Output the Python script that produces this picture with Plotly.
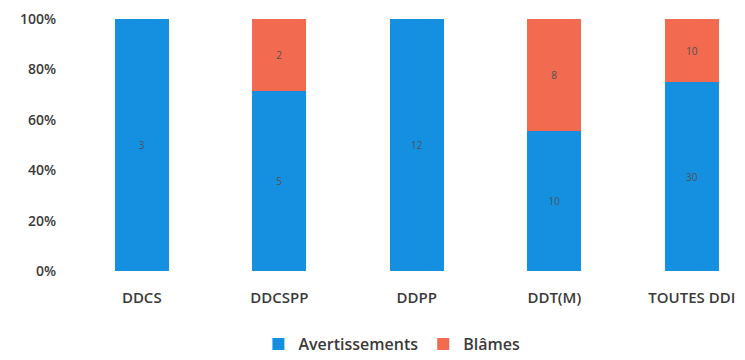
import plotly.graph_objects as go

categories = ["DDCS", "DDCSPP", "DDPP", "DDT(M)", "TOUTES DDI"]
avertissements = [3, 5, 12, 10, 30]
blames = [0, 2, 0, 8, 10]
y_ticks = [0, 20, 40, 60, 80, 100]
y_tick_labels = ["0%", "20%", "40%", "60%", "80%", "100%"]

def lbl(vals):
    return [str(v) if v else "" for v in vals]

FONT = "Open Sans, sans-serif"
TXT = "#3a3a3a"

fig = go.Figure()
fig.add_trace(go.Bar(x=categories, y=avertissements, name="Avertissements",
                     marker=dict(color="#1590E0", line=dict(width=0)),
                     text=lbl(avertissements), textposition="inside",
                     insidetextanchor="middle",
                     textfont=dict(color="#505050", size=10), width=0.39))
fig.add_trace(go.Bar(x=categories, y=blames, name="Blâmes",
                     marker=dict(color="#F26B50", line=dict(width=0)),
                     text=lbl(blames), textposition="inside",
                     insidetextanchor="middle",
                     textfont=dict(color="#505050", size=10), width=0.39))

fig.update_layout(
    barmode="stack", barnorm="percent",
    width=745, height=360,
    margin=dict(l=65, r=0, t=11, b=97, autoexpand=False),
    paper_bgcolor="white", plot_bgcolor="white",
    font=dict(family=FONT, color=TXT, size=14),
    uniformtext=dict(minsize=8, mode="show"),
    xaxis=dict(range=[-0.5, 4.445], showgrid=False, showline=False,
               automargin=False, ticks="", ticklabelstandoff=16,
               tickfont=dict(family=FONT, size=15, color=TXT, weight=600)),
    yaxis=dict(range=[0, 100], tickvals=y_ticks, ticktext=y_tick_labels,
               showgrid=False, zeroline=False, showline=False,
               automargin=False, ticks="", ticklabelstandoff=16,
               tickfont=dict(family=FONT, size=14, color=TXT, weight=600)),
    legend=dict(orientation="h", x=0.469, xanchor="center", y=-0.29,
                yanchor="middle",
                font=dict(family=FONT, size=16, color=TXT, weight=600),
                traceorder="normal", itemwidth=30, tracegroupgap=0),
    showlegend=True,
)
fig.write_html("out.html")
